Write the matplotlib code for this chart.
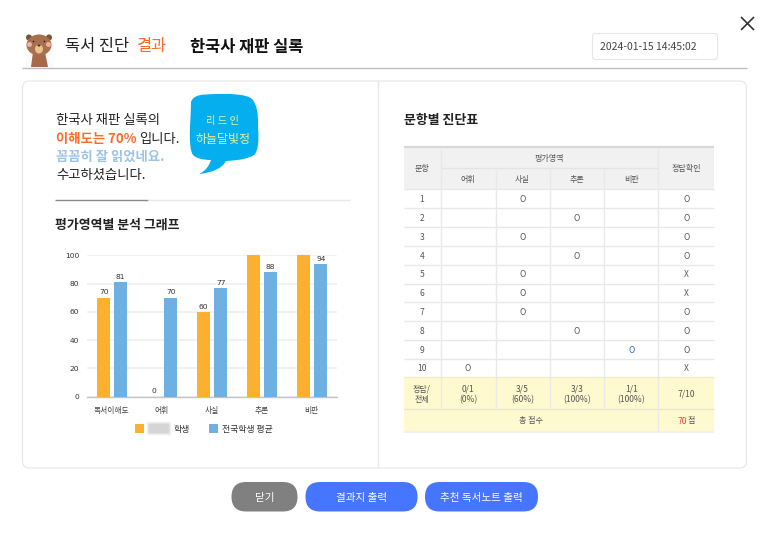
import matplotlib
matplotlib.use("Agg")
import matplotlib.pyplot as plt
from matplotlib.patches import FancyBboxPatch, Rectangle, Ellipse, PathPatch, Polygon
from matplotlib.path import Path

plt.rcParams["font.family"] = ["Noto Sans CJK KR", "DejaVu Sans"]

# ---- data ----
categories = ["독서이해도", "어휘", "사실", "추론", "비판"]
student = [70, 0, 60, 100, 100]
national = [81, 70, 77, 88, 94]
y_ticks = [0, 20, 40, 60, 80, 100]
student_label = "학생"
national_label = "전국학생 평균"

areas = ["어휘", "사실", "추론", "비판"]
q_numbers = [1, 2, 3, 4, 5, 6, 7, 8, 9, 10]
q_area = ["사실", "추론", "사실", "추론", "사실", "사실", "사실", "추론", "비판", "어휘"]
q_answer = ["O", "O", "O", "O", "X", "X", "O", "O", "O", "X"]
summary_row = ["0/1\n(0%)", "3/5\n(60%)", "3/3\n(100%)", "1/1\n(100%)"]
summary_total = "7/10"
total_score = "70"

W, H = 773, 541
fig = plt.figure(figsize=(W / 100, H / 100), dpi=100, facecolor="white")
ui = fig.add_axes([0, 0, 1, 1])
ui.set_xlim(0, W)
ui.set_ylim(H, 0)
ui.axis("off")

DARK = "#222222"


def T(x, y, s, size=10, color=DARK, ha="left", weight="normal", **kw):
    return ui.text(x, y + size * 0.12, s, fontsize=size, color=color, ha=ha, va="center",
                   fontweight=weight, **kw)


def L(x0, y0, x1, y1, c="#e6e6e6", lw=1.0):
    ui.plot([x0, x1], [y0, y1], color=c, lw=lw, solid_capstyle="butt")


def RR(x0, y0, x1, y1, r, fc, ec="none", lw=1.0, z=1, alpha=None):
    ui.add_patch(FancyBboxPatch((x0 + r, y0 + r), x1 - x0 - 2 * r, y1 - y0 - 2 * r,
                                boxstyle=f"round,pad={r},rounding_size={r}",
                                fc=fc, ec=ec, lw=lw, zorder=z, alpha=alpha))


# ---- header: bear ----
ui.add_patch(Rectangle((26, 34), 28, 33, fc="#fdfbf9", ec="none"))
ui.add_patch(Polygon([(33, 52), (45, 52), (48, 67), (31, 67)], fc="#a8684a", ec="none"))
ui.add_patch(Ellipse((29, 37.5), 6, 6, fc="#7d5236", ec="none"))
ui.add_patch(Ellipse((49, 37.5), 6, 6, fc="#7d5236", ec="none"))
ui.add_patch(Ellipse((39, 45), 25, 21, fc="#a9704d", ec="none"))
ui.add_patch(Ellipse((29.5, 44.5), 5, 5, fc="#eeb0a4", ec="none"))
ui.add_patch(Ellipse((48.5, 44.5), 5, 5, fc="#eeb0a4", ec="none"))
ui.add_patch(Ellipse((39, 49), 8, 9, fc="#e6c48a", ec="none"))
ui.add_patch(Ellipse((39, 45.5), 3, 2, fc="#3a2a20", ec="none"))
ui.add_patch(Ellipse((33.5, 41.5), 1.6, 1.6, fc="#2a1a10", ec="none"))
ui.add_patch(Ellipse((44.5, 41.5), 1.6, 1.6, fc="#2a1a10", ec="none"))

T(65, 45, "독서 진단", 11.8, "#222222")
T(137, 45, "결과", 11.8, "#ff6a2b")
T(189.5, 45, "한국사 재판 실록", 11.8, "#111111", weight="bold")
L(22, 67.5, 747, 67.5, "#bdbdbd", 1.0)

RR(592.5, 33.5, 717.5, 59.5, 3, "white", "#e6e6e6", 0.8)
T(600, 46.5, "2024-01-15 14:45:02", 7.5, "#444444")
L(741, 17, 754, 30, "#333333", 1.2)
L(754, 17, 741, 30, "#333333", 1.2)

# ---- card ----
RR(22.5, 81, 746.5, 468, 7, "white", "#e6e6e6", 0.8, z=0)
L(378, 81, 378, 468, "#e8e8e8", 1.0)

T(56, 119, "한국사 재판 실록의", 9.6)
T(56, 138, "이해도는 70%", 9.6, "#ff6a2b", weight="bold")
T(139, 138, "입니다.", 9.6)
T(56, 156, "꼼꼼히 잘 읽었네요.", 9.6, "#9cc3e8", weight="bold")
T(56, 174, "수고하셨습니다.", 9.6)

L(55, 199.5, 148, 199.5, "#8a8a8a", 1.0)
L(148, 199.5, 350, 199.5, "#e8e8e8", 1.0)
T(55, 224, "평가영역별 분석 그래프", 9.3, "#222222", weight="bold")

# speech bubble
bubble = Path(
    [(205, 94.5),
     (245, 92), (252, 99),
     (259, 106), (258, 127),
     (260, 150), (254, 155),
     (247, 160), (226, 161),
     (220, 172), (199, 174),
     (208, 170), (211, 160),
     (198, 160), (193, 155),
     (189, 150), (190, 127),
     (191, 110), (191, 102),
     (193, 95), (205, 94.5)],
    [Path.MOVETO] + [Path.CURVE3] * 20)
ui.add_patch(PathPatch(bubble, fc="#05aeef", ec="none"))
T(223, 120.5, "리 드 인", 7.4, "#e6f2a0", ha="center")
T(223, 138.5, "하늘달빛정", 8.6, "#e6f2a0", ha="center")

# ---- table ----
col_x = [403.5, 440.5, 495.5, 549.5, 604.3, 658.3, 714]
row_y = [189.3, 208.2, 227, 246, 264.6, 283.5, 302.4, 321.2, 340, 358.7, 377.3]
TXT = "#555555"
T(404, 119, "문항별 진단표", 9.3, "#222222", weight="bold")

ui.add_patch(Rectangle((col_x[0], 147), col_x[-1] - col_x[0], row_y[0] - 147, fc="#f1f1f1", ec="none"))
ui.add_patch(Rectangle((col_x[0], row_y[-1]), col_x[-1] - col_x[0], 431 - row_y[-1], fc="#fff9cf", ec="none"))
L(col_x[0], 147, col_x[-1], 147, "#d8d8d8", 1.6)
L(col_x[1], 168.3, col_x[5], 168.3, "#e4e4e4", 1.0)
for y in row_y[:-1]:
    L(col_x[0], y, col_x[-1], y, "#e8e8e8", 1.0)
L(col_x[0], row_y[-1], col_x[-1], row_y[-1], "#eeeecc", 1.0)
L(col_x[0], 409.3, col_x[-1], 409.3, "#e8e8d0", 1.0)
L(col_x[0], 431.5, col_x[-1], 431.5, "#eeeeee", 1.2)
for i, x in enumerate(col_x[1:-1], start=1):
    top = 168.3 if i in (2, 3, 4) else 147
    bottom = 409.3 if i < 5 else 431
    L(x, top, x, bottom, "#e9e9e9", 1.0)

cx = [(a + b) / 2 for a, b in zip(col_x[:-1], col_x[1:])]
hs = 5.8
T(cx[0], 168, "문항", hs, TXT, ha="center")
T((col_x[1] + col_x[5]) / 2, 158, "평가영역", hs, TXT, ha="center")
T(cx[5], 168, "정답확인", hs, TXT, ha="center")
for j, a in enumerate(areas):
    T(cx[j + 1], 179, a, hs, TXT, ha="center")

for i, q in enumerate(q_numbers):
    yc = (row_y[i] + row_y[i + 1]) / 2
    T(cx[0], yc, str(q), hs + 0.3, TXT, ha="center")
    j = areas.index(q_area[i])
    T(cx[j + 1], yc, "O", hs + 0.3, "#2f6f9f" if q_area[i] == "비판" else TXT, ha="center")
    T(cx[5], yc, q_answer[i], hs + 0.3, TXT, ha="center")

ys = (row_y[-1] + 409.3) / 2
T(cx[0], ys, "정답/\n전체", hs, TXT, ha="center", linespacing=1.2)
for j, s in enumerate(summary_row):
    T(cx[j + 1], ys, s, hs + 0.3, TXT, ha="center", linespacing=1.2)
T(cx[5], ys, summary_total, hs + 0.3, TXT, ha="center")
T((col_x[0] + col_x[5]) / 2, 420.3, "총 점수", hs, TXT, ha="center")
T(cx[5] + 1, 420.3, total_score, hs + 0.3, "#e8443a", ha="right")
T(cx[5] + 1, 420.3, "점", hs, TXT, ha="left")

# ---- buttons ----
RR(231.5, 482, 297.5, 511.5, 14.7, "#808080")
RR(305.5, 482, 417.5, 511.5, 14.7, "#4676ff")
RR(425, 482, 538, 511.5, 14.7, "#4676ff")
T(264.5, 497, "닫기", 7.6, "white", ha="center")
T(361.5, 497, "결과지 출력", 7.6, "white", ha="center")
T(481.5, 497, "추천 독서노트 출력", 7.6, "white", ha="center")

# ---- chart ----
ax = fig.add_axes([86.7 / W, 1 - 396.7 / H, 250 / W, 141.4 / H])
ax.patch.set_alpha(0)
ORANGE, BLUE = "#fdb02f", "#6fb0e2"
xs = list(range(len(categories)))
bw = 0.266
b1 = ax.bar([x - 0.17 + 0.01 for x in xs], student, bw, color=ORANGE, zorder=3)
b2 = ax.bar([x + 0.17 + 0.01 for x in xs], national, bw, color=BLUE, zorder=3)
ax.set_xlim(-0.5, 4.5)
ax.set_ylim(0, 100)
ax.set_yticks(y_ticks)
ax.set_xticks(xs, categories)
ax.grid(axis="y", color="#f0f0f0", lw=1.2, zorder=0)
ax.set_axisbelow(True)
for s in ("top", "left", "right"):
    ax.spines[s].set_visible(False)
ax.spines["bottom"].set_color("#c4c4c4")
ax.spines["bottom"].set_linewidth(1.0)
ax.tick_params(axis="both", length=0)
ax.tick_params(axis="y", labelsize=5.4, labelcolor="#333333", pad=5.4)
ax.tick_params(axis="x", labelsize=5.6, labelcolor="#444444", pad=7.2)
for lab in ax.get_yticklabels():
    lab.set_fontfamily("DejaVu Sans")
for bars, vals in ((b1, student), (b2, national)):
    for r, v in zip(bars, vals):
        if v < 100:
            ax.annotate(str(v), (r.get_x() + r.get_width() / 2, v), xytext=(0, 1.6),
                        textcoords="offset points", ha="center", va="bottom",
                        fontsize=5.4, color="#333333", fontfamily="DejaVu Sans")

ui.add_patch(Rectangle((135, 424), 9, 9, fc=ORANGE, ec="none"))
ui.add_patch(Rectangle((209, 424), 9, 9, fc=BLUE, ec="none"))
for grow, a in ((2.5, 0.12), (1.8, 0.15), (1.1, 0.2), (0.5, 0.25), (0, 0.3)):
    RR(149 - grow, 424 - grow, 169 + grow, 433 + grow, 1.5, "#c4c4c4", alpha=a)
T(173, 428.5, student_label, 6.4, "#333333")
T(222.5, 428.5, national_label, 6.4, "#333333")

fig.savefig("out.png", dpi=100)
